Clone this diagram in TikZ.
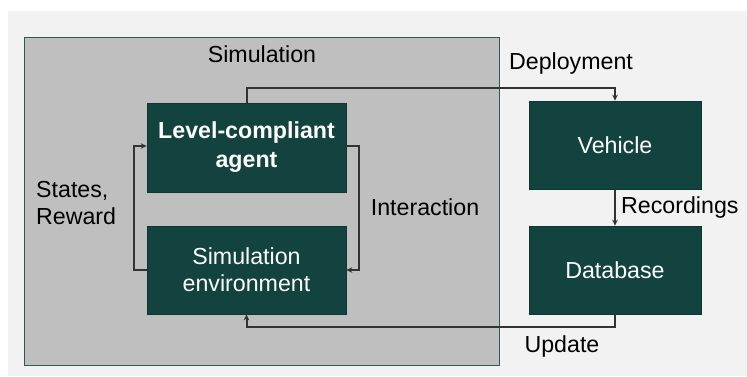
\documentclass[tikz,border=0pt]{standalone}
\usepackage{fontspec}
\setmainfont{Liberation Sans}
\usetikzlibrary{arrows.meta}
\definecolor{pagegrey}{HTML}{F2F2F2}
\definecolor{simgrey}{HTML}{BFBFBF}
\definecolor{simedge}{HTML}{2F5955}
\definecolor{boxteal}{HTML}{12433F}
\definecolor{linegrey}{HTML}{333333}
\begin{document}
\begin{tikzpicture}[x=1pt,y=-1pt,
  every node/.style={font=\fontsize{23.2}{28}\selectfont, inner sep=0pt},
  block/.style={fill=boxteal, draw=boxteal!80!black, line width=0.6pt, text=white, align=center},
  label/.style={text=black, align=left},
  flow/.style={draw=linegrey, line width=2pt, -{Stealth[length=6pt,width=5.5pt]}}]
  % canvas and panels
  \useasboundingbox (0,0) rectangle (747,376);
  \fill[white] (0,0) rectangle (747,376);
  \fill[pagegrey] (8,11) rectangle (747,376);
  \draw[fill=simgrey, draw=simedge, line width=0.9pt] (24,37) rectangle (499,365);
  \node (simtitle) at (262,54) {Simulation};

  % blocks
  \node[block, minimum width=199pt, minimum height=89pt, font=\fontsize{23.2}{29}\selectfont\bfseries]
    (agent) at (246.5,147.5) {Level-compliant\\agent};
  \node[block, minimum width=199pt, minimum height=88pt, font=\fontsize{23.2}{27}\selectfont]
    (env) at (246.5,270) {Simulation\\environment};
  \node[block, minimum width=172pt, minimum height=88pt] (vehicle) at (615,145) {Vehicle};
  \node[block, minimum width=172pt, minimum height=88pt] (database) at (615,270) {Database};

  % connectors
  \draw[flow] (agent.north) -- ++(0,-15) -| (vehicle.north);
  \draw[flow] (vehicle.south) -- (database.north);
  \draw[flow] (database.south) -- ++(0,13) -| (env.south);
  \draw[flow] ([yshift=1.5pt]agent.east) -- ++(13,0) |- (env.east);
  \draw[flow] (env.west) -- ++(-13,0) |- ([yshift=1.5pt]agent.west);

  % labels
  \node[label] (lbldeploy) at (571,63) {Deployment};
  \node[label, anchor=west] (lblrec) at (621,207) {Recordings};
  \node[label] (lblupdate) at (562,346) {Update};
  \node[label] (lblinter) at (425,207) {Interaction};
  \node[label, anchor=west, align=left, font=\fontsize{23.2}{27}\selectfont] (lblstates) at (36,203) {States,\\Reward};
\end{tikzpicture}
\end{document}
